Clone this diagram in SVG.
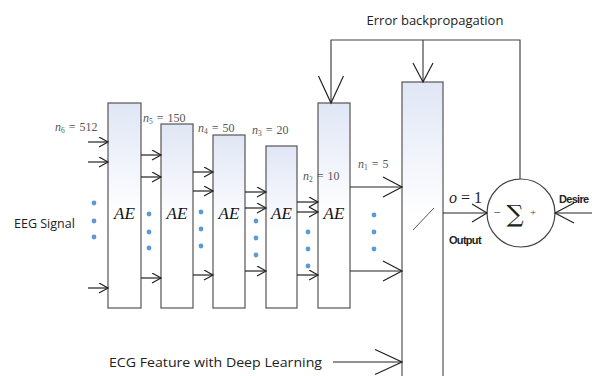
<svg xmlns="http://www.w3.org/2000/svg" width="592" height="376" viewBox="0 0 592 376">
<style>
.box{stroke:#555;stroke-width:1.2;fill:url(#g)}
.ln{stroke:#222;stroke-width:1.2;fill:none}
.fb{stroke:#444;stroke-width:1.2;fill:none}
.ae{font-family:"Liberation Serif",serif;font-style:italic;font-size:17px;fill:#111;text-anchor:middle}
.nl{font-family:"Liberation Serif",serif;font-size:12px;fill:#555}
.nl tspan.i{font-style:italic}
.lab{font-family:"Open Sans","Liberation Sans",sans-serif;fill:#222}
.dot{fill:#5b9bd5}
</style>
<defs>
<linearGradient id="g" x1="0" y1="0" x2="0" y2="1">
<stop offset="0" stop-color="#e0e6f5"/>
<stop offset="0.55" stop-color="#ffffff"/>
</linearGradient>
<linearGradient id="g2" x1="0" y1="0" x2="0" y2="1">
<stop offset="0" stop-color="#e0e6f5"/>
<stop offset="0.45" stop-color="#ffffff"/>
</linearGradient>
<marker id="as" markerUnits="userSpaceOnUse" markerWidth="12" markerHeight="12" refX="10" refY="5.5" orient="auto">
<path d="M1,0.5 L10,5.5 L1,10.5" fill="none" stroke="#222" stroke-width="1.2"/>
</marker>
<marker id="am" markerUnits="userSpaceOnUse" markerWidth="20" markerHeight="22" refX="16" refY="10" orient="auto">
<path d="M1,1 L16,10 L1,19" fill="none" stroke="#222" stroke-width="1.2"/>
</marker>
<marker id="al" markerUnits="userSpaceOnUse" markerWidth="24" markerHeight="24" refX="20" refY="11" orient="auto">
<path d="M1,1 L20,11 L1,21" fill="none" stroke="#222" stroke-width="1.2"/>
</marker>
<marker id="ax" markerUnits="userSpaceOnUse" markerWidth="32" markerHeight="30" refX="28" refY="13" orient="auto">
<path d="M1,0.5 L28,13 L1,25.5" fill="none" stroke="#222" stroke-width="1.2"/>
</marker>
</defs>
<rect width="592" height="376" fill="#fff"/>

<text class="lab" x="435" y="25" font-size="13" text-anchor="middle">Error backpropagation</text>

<g id="ae1"><rect class="box" x="108" y="103" width="33" height="205"/><text class="ae" x="124.5" y="219">AE</text></g>
<g id="ae2"><rect class="box" x="161" y="124" width="32" height="184"/><text class="ae" x="177" y="219">AE</text></g>
<g id="ae3"><rect class="box" x="213" y="135" width="32" height="173"/><text class="ae" x="229" y="219">AE</text></g>
<g id="ae4"><rect class="box" x="266" y="146" width="31" height="162"/><text class="ae" x="281.5" y="219">AE</text></g>
<g id="ae5"><rect class="box" x="318" y="103" width="32" height="205"/><text class="ae" x="334" y="219">AE</text></g>
<g id="out"><rect x="402" y="82" width="41" height="300" stroke="#555" stroke-width="1.2" fill="url(#g2)"/><line x1="413" y1="230" x2="434" y2="208" stroke="#555" stroke-width="1"/></g>
<g id="sum"><circle cx="521" cy="213" r="34" fill="#fff" stroke="#444" stroke-width="1.2"/>
<text x="497" y="217" font-family="Liberation Serif,serif" font-size="13" fill="#444" text-anchor="middle">−</text>
<text x="515" y="222" font-family="DejaVu Serif,serif" font-size="24" fill="#222" text-anchor="middle">∑</text>
<text x="533" y="216" font-family="Liberation Serif,serif" font-size="11" fill="#444" text-anchor="middle">+</text></g>

<g id="labels">
<text class="nl" x="55" y="131"><tspan class="i">n</tspan><tspan font-size="7.5" dy="2">6</tspan><tspan dy="-2" dx="4">=</tspan><tspan dx="4">512</tspan></text>
<text class="nl" x="143" y="122"><tspan class="i">n</tspan><tspan font-size="7.5" dy="2">5</tspan><tspan dy="-2" dx="4">=</tspan><tspan dx="4">150</tspan></text>
<text class="nl" x="198" y="132"><tspan class="i">n</tspan><tspan font-size="7.5" dy="2">4</tspan><tspan dy="-2" dx="4">=</tspan><tspan dx="4">50</tspan></text>
<text class="nl" x="252" y="134"><tspan class="i">n</tspan><tspan font-size="7.5" dy="2">3</tspan><tspan dy="-2" dx="4">=</tspan><tspan dx="4">20</tspan></text>
<text class="nl" x="303" y="180"><tspan class="i">n</tspan><tspan font-size="7.5" dy="2">2</tspan><tspan dy="-2" dx="4">=</tspan><tspan dx="4">10</tspan></text>
<text class="nl" x="358" y="168"><tspan class="i">n</tspan><tspan font-size="7.5" dy="2">1</tspan><tspan dy="-2" dx="4">=</tspan><tspan dx="4">5</tspan></text>
<text class="lab" x="14" y="228" font-size="12.5">EEG Signal</text>
<text class="lab" x="109" y="367" font-size="13" textLength="213" lengthAdjust="spacingAndGlyphs">ECG Feature with Deep Learning</text>
<text x="449" y="203" font-family="Liberation Serif,serif" font-size="16" fill="#222"><tspan font-style="italic">o</tspan> = 1</text>
<text x="449" y="244" font-family="Liberation Sans,sans-serif" font-size="11" font-weight="bold" fill="#222" letter-spacing="-0.7">Output</text>
<text x="559" y="203" font-family="Liberation Sans,sans-serif" font-size="11" font-weight="bold" fill="#222" letter-spacing="-0.7">Desire</text>
</g>

<g id="dots">
<circle class="dot" cx="94" cy="203" r="2.4"/><circle class="dot" cx="94" cy="221" r="2.4"/><circle class="dot" cx="94" cy="237" r="2.4"/>
<circle class="dot" cx="149" cy="214" r="2.4"/><circle class="dot" cx="149" cy="232" r="2.4"/><circle class="dot" cx="149" cy="248" r="2.4"/>
<circle class="dot" cx="201" cy="212" r="2.4"/><circle class="dot" cx="201" cy="229" r="2.4"/><circle class="dot" cx="201" cy="246" r="2.4"/>
<circle class="dot" cx="256" cy="221" r="2.4"/><circle class="dot" cx="256" cy="238" r="2.4"/><circle class="dot" cx="256" cy="255" r="2.4"/>
<circle class="dot" cx="308" cy="232" r="2.4"/><circle class="dot" cx="308" cy="249" r="2.4"/><circle class="dot" cx="308" cy="266" r="2.4"/>
<circle class="dot" cx="374" cy="215" r="2.4"/><circle class="dot" cx="374" cy="232" r="2.4"/><circle class="dot" cx="374" cy="249" r="2.4"/>
</g>

<g id="connectors">
<path class="ln" d="M88,142H108" marker-end="url(#as)"/>
<path class="ln" d="M88,162H108" marker-end="url(#as)"/>
<path class="ln" d="M88,288H108" marker-end="url(#as)"/>
<path class="ln" d="M141,155H161" marker-end="url(#as)"/>
<path class="ln" d="M141,177H161" marker-end="url(#as)"/>
<path class="ln" d="M141,278H161" marker-end="url(#as)"/>
<path class="ln" d="M193,172H213" marker-end="url(#as)"/>
<path class="ln" d="M193,191H213" marker-end="url(#as)"/>
<path class="ln" d="M193,275H213" marker-end="url(#as)"/>
<path class="ln" d="M245,192H266" marker-end="url(#as)"/>
<path class="ln" d="M245,208H266" marker-end="url(#as)"/>
<path class="ln" d="M245,271H266" marker-end="url(#as)"/>
<path class="ln" d="M297,202H318" marker-end="url(#as)"/>
<path class="ln" d="M297,212H318" marker-end="url(#as)"/>
<path class="ln" d="M297,275H318" marker-end="url(#as)"/>
<path class="ln" d="M350,187H402" marker-end="url(#al)"/>
<path class="ln" d="M350,271H402" marker-end="url(#al)"/>
<path class="ln" d="M333,362H402" marker-end="url(#ax)"/>
<path class="ln" d="M443,213H487" marker-end="url(#am)"/>
<path class="ln" d="M592,213H555" marker-end="url(#al)"/>
<path class="fb" d="M520,179V40H331V103" marker-end="url(#ax)"/>
<path class="fb" d="M423,40V82" marker-end="url(#al)"/>
</g>
</svg>
